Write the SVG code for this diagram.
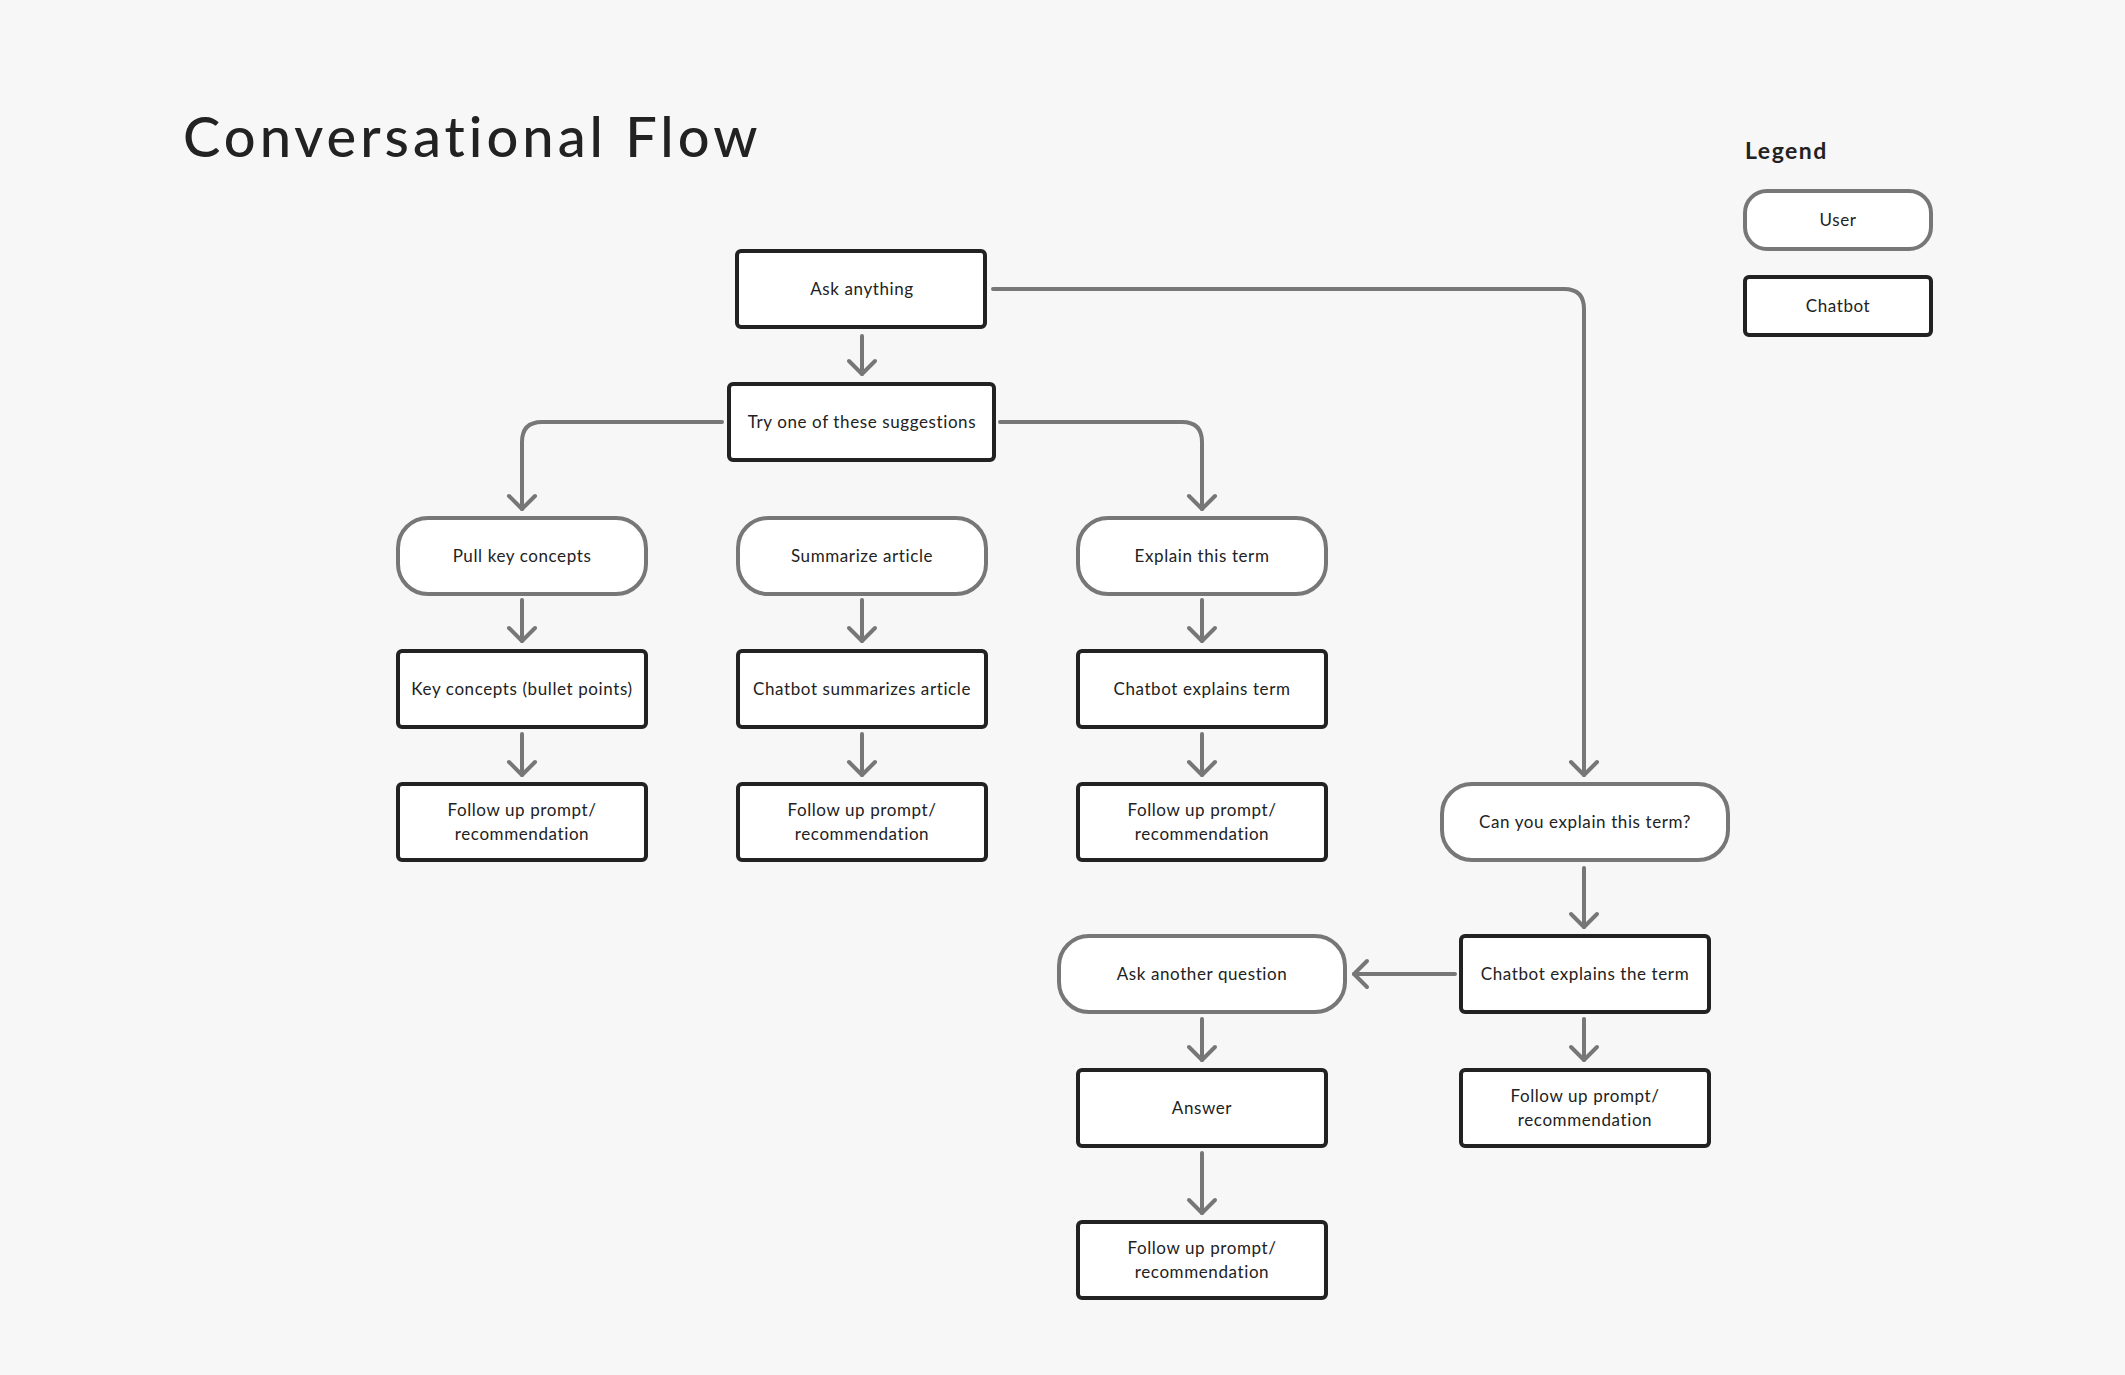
<svg xmlns="http://www.w3.org/2000/svg" width="2125" height="1375" viewBox="0 0 2125 1375">
<style>
.bot{fill:#fff;stroke:#222;stroke-width:4}
.usr{fill:#fff;stroke:#777;stroke-width:4}
text{font-family:Lato,"Noto Sans",sans-serif;font-size:17px;fill:#222;text-anchor:middle;letter-spacing:0.6px}
.c{fill:none;stroke:#777;stroke-width:4;stroke-linecap:round;stroke-linejoin:round}
</style>
<defs>
<marker id="a" viewBox="-16 -16 20 32" markerWidth="20" markerHeight="32" refX="0" refY="0" orient="auto" markerUnits="userSpaceOnUse">
<path d="M-13,-13 L0,0 L-13,13" fill="none" stroke="#777" stroke-width="4" stroke-linecap="round" stroke-linejoin="round"/>
</marker>
</defs>
<rect width="2125" height="1375" fill="#f7f7f7"/>
<text x="183" y="157" style="font-size:56px;text-anchor:start;letter-spacing:4px;font-weight:500">Conversational Flow</text>
<g id="legend">
<text x="1745" y="159" style="font-size:23px;text-anchor:start;font-weight:bold;letter-spacing:1.5px">Legend</text>
<rect class="usr" x="1745" y="191" width="186" height="58" rx="22"/><text x="1838" y="226">User</text>
<rect class="bot" x="1745" y="277" width="186" height="58" rx="4"/><text x="1838" y="312">Chatbot</text>
</g>
<g id="connectors" class="c" marker-end="url(#a)">
<path d="M862,336 V374"/>
<path d="M993,289 H1564 Q1584,289 1584,309 V775"/>
<path d="M722,422 H542 Q522,422 522,442 V509"/>
<path d="M1000,422 H1182 Q1202,422 1202,442 V509"/>
<path d="M862,600 V641"/>
<path d="M522,600 V641"/>
<path d="M1202,600 V641"/>
<path d="M522,734 V775"/>
<path d="M862,734 V775"/>
<path d="M1202,734 V775"/>
<path d="M1584,868 V927"/>
<path d="M1455,974 H1354"/>
<path d="M1202,1019 V1060"/>
<path d="M1584,1019 V1060"/>
<path d="M1202,1153 V1213"/>
</g>
<g id="n1"><rect class="bot" x="737" y="251" width="248" height="76" rx="4"/><text x="862" y="295">Ask anything</text></g>
<g id="n2"><rect class="bot" x="729" y="384" width="265" height="76" rx="4"/><text x="862" y="428">Try one of these suggestions</text></g>
<g id="n3"><rect class="usr" x="398" y="518" width="248" height="76" rx="30"/><text x="522" y="562">Pull key concepts</text></g>
<g id="n4"><rect class="usr" x="738" y="518" width="248" height="76" rx="30"/><text x="862" y="562">Summarize article</text></g>
<g id="n5"><rect class="usr" x="1078" y="518" width="248" height="76" rx="30"/><text x="1202" y="562">Explain this term</text></g>
<g id="n6"><rect class="bot" x="398" y="651" width="248" height="76" rx="4"/><text x="522" y="695">Key concepts (bullet points)</text></g>
<g id="n7"><rect class="bot" x="738" y="651" width="248" height="76" rx="4"/><text x="862" y="695">Chatbot summarizes article</text></g>
<g id="n8"><rect class="bot" x="1078" y="651" width="248" height="76" rx="4"/><text x="1202" y="695">Chatbot explains term</text></g>
<g id="n9"><rect class="bot" x="398" y="784" width="248" height="76" rx="4"/><text x="522" y="816">Follow up prompt/</text><text x="522" y="840">recommendation</text></g>
<g id="n10"><rect class="bot" x="738" y="784" width="248" height="76" rx="4"/><text x="862" y="816">Follow up prompt/</text><text x="862" y="840">recommendation</text></g>
<g id="n11"><rect class="bot" x="1078" y="784" width="248" height="76" rx="4"/><text x="1202" y="816">Follow up prompt/</text><text x="1202" y="840">recommendation</text></g>
<g id="n12"><rect class="usr" x="1442" y="784" width="286" height="76" rx="30"/><text x="1585" y="828">Can you explain this term?</text></g>
<g id="n13"><rect class="bot" x="1461" y="936" width="248" height="76" rx="4"/><text x="1585" y="980">Chatbot explains the term</text></g>
<g id="n14"><rect class="usr" x="1059" y="936" width="286" height="76" rx="30"/><text x="1202" y="980">Ask another question</text></g>
<g id="n15"><rect class="bot" x="1078" y="1070" width="248" height="76" rx="4"/><text x="1202" y="1114">Answer</text></g>
<g id="n16"><rect class="bot" x="1461" y="1070" width="248" height="76" rx="4"/><text x="1585" y="1102">Follow up prompt/</text><text x="1585" y="1126">recommendation</text></g>
<g id="n17"><rect class="bot" x="1078" y="1222" width="248" height="76" rx="4"/><text x="1202" y="1254">Follow up prompt/</text><text x="1202" y="1278">recommendation</text></g>
</svg>
